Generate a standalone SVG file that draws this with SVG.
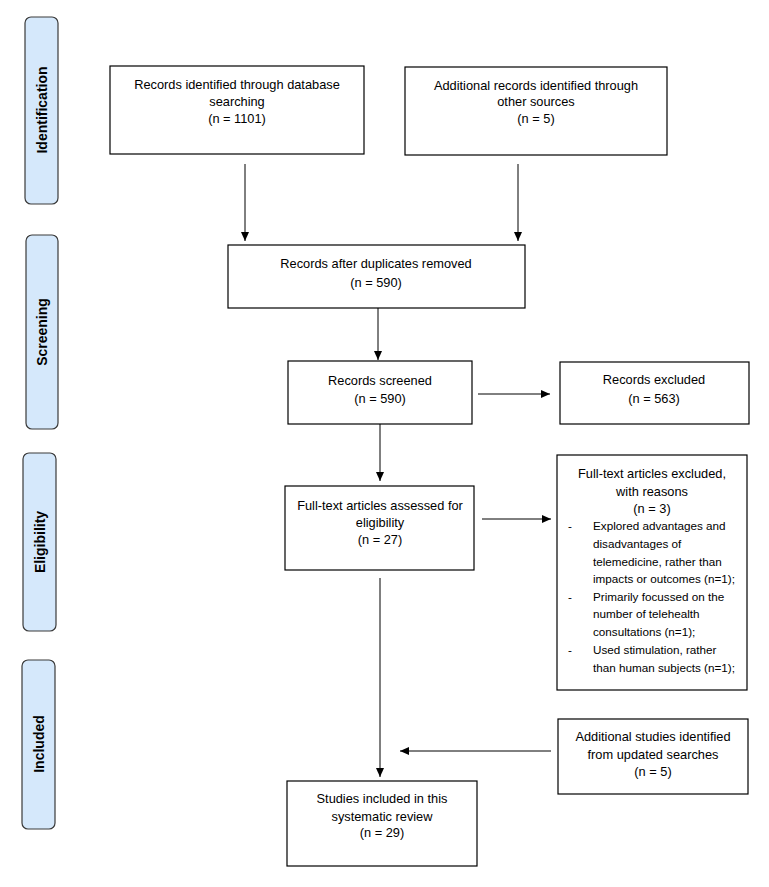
<svg xmlns="http://www.w3.org/2000/svg" width="769" height="887" viewBox="0 0 769 887">
<style>
.bg{fill:#ffffff}
.phase{fill:#d5e8fb;stroke:#3a3a3a;stroke-width:1.2}
.phase-t{font-family:"Liberation Sans",Arial,sans-serif;font-weight:bold;font-size:14px;fill:#000;text-anchor:middle}
.box{fill:#ffffff;stroke:#000;stroke-width:1.2}
.t{font-family:"Liberation Sans",Arial,sans-serif;font-size:12.8px;fill:#000;text-anchor:middle}
.tl{font-family:"Liberation Sans",Arial,sans-serif;font-size:11.7px;fill:#000}
.conn{stroke:#000;stroke-width:1;fill:none;marker-end:url(#ah)}
</style>
<defs>
<marker id="ah" markerWidth="10" markerHeight="10" refX="9" refY="4" orient="auto" markerUnits="userSpaceOnUse">
<path d="M0,0 L9,4 L0,8 Z" fill="#000"/>
</marker>
</defs>
<rect class="bg" x="0" y="0" width="769" height="887"/>

<g id="phase-identification">
<rect class="phase" x="25" y="17" width="33" height="187" rx="6"/>
<text class="phase-t" transform="translate(47,110) rotate(-90)">Identification</text>
</g>
<g id="phase-screening">
<rect class="phase" x="26" y="235" width="32" height="194" rx="6"/>
<text class="phase-t" transform="translate(47,332) rotate(-90)">Screening</text>
</g>
<g id="phase-eligibility">
<rect class="phase" x="23" y="453" width="33" height="178" rx="6"/>
<text class="phase-t" transform="translate(45,542) rotate(-90)">Eligibility</text>
</g>
<g id="phase-included">
<rect class="phase" x="22" y="660" width="33" height="169" rx="6"/>
<text class="phase-t" transform="translate(44,744) rotate(-90)">Included</text>
</g>

<g id="n-database">
<rect class="box" x="110" y="66" width="254" height="88"/>
<text class="t" x="237" y="89">Records identified through database</text>
<text class="t" x="237" y="106">searching</text>
<text class="t" x="237" y="123">(n = 1101)</text>
</g>
<g id="n-other">
<rect class="box" x="405" y="67" width="262" height="88"/>
<text class="t" x="536" y="90">Additional records identified through</text>
<text class="t" x="536" y="106">other sources</text>
<text class="t" x="536" y="123">(n = 5)</text>
</g>
<g id="n-dedup">
<rect class="box" x="228" y="245" width="297" height="63"/>
<text class="t" x="376" y="268">Records after duplicates removed</text>
<text class="t" x="376" y="287">(n = 590)</text>
</g>
<g id="n-screened">
<rect class="box" x="288" y="361" width="184" height="63"/>
<text class="t" x="380" y="385">Records screened</text>
<text class="t" x="380" y="403">(n = 590)</text>
</g>
<g id="n-excluded">
<rect class="box" x="560" y="362" width="189" height="62"/>
<text class="t" x="654" y="384">Records excluded</text>
<text class="t" x="654" y="403">(n = 563)</text>
</g>
<g id="n-fulltext">
<rect class="box" x="285" y="486" width="189" height="84"/>
<text class="t" x="380" y="510">Full-text articles assessed for</text>
<text class="t" x="380" y="527">eligibility</text>
<text class="t" x="380" y="544">(n = 27)</text>
</g>
<g id="n-ft-excluded">
<rect class="box" x="557" y="455" width="190" height="235"/>
<text class="t" x="652" y="478">Full-text articles excluded,</text>
<text class="t" x="652" y="496">with reasons</text>
<text class="t" x="652" y="513">(n = 3)</text>
<text class="tl" x="568" y="530">-</text>
<text class="tl" x="593" y="530">Explored advantages and</text>
<text class="tl" x="593" y="548">disadvantages of</text>
<text class="tl" x="593" y="566">telemedicine, rather than</text>
<text class="tl" x="593" y="583">impacts or outcomes (n=1);</text>
<text class="tl" x="568" y="601">-</text>
<text class="tl" x="593" y="601">Primarily focussed on the</text>
<text class="tl" x="593" y="618">number of telehealth</text>
<text class="tl" x="593" y="636">consultations (n=1);</text>
<text class="tl" x="568" y="654">-</text>
<text class="tl" x="593" y="654">Used stimulation, rather</text>
<text class="tl" x="593" y="672">than human subjects (n=1);</text>
</g>
<g id="n-updated">
<rect class="box" x="558" y="719" width="190" height="75"/>
<text class="t" x="653" y="741">Additional studies identified</text>
<text class="t" x="653" y="759">from updated searches</text>
<text class="t" x="653" y="776">(n = 5)</text>
</g>
<g id="n-included">
<rect class="box" x="287" y="781" width="190" height="85"/>
<text class="t" x="382" y="803">Studies included in this</text>
<text class="t" x="382" y="821">systematic review</text>
<text class="t" x="382" y="837">(n = 29)</text>
</g>

<g id="connectors">
<line class="conn" x1="245" y1="164" x2="245" y2="241"/>
<line class="conn" x1="518" y1="164" x2="518" y2="241"/>
<line class="conn" x1="378" y1="308" x2="378" y2="360"/>
<line class="conn" x1="478" y1="394" x2="550" y2="394"/>
<line class="conn" x1="380" y1="424" x2="380" y2="481"/>
<line class="conn" x1="482" y1="519" x2="551" y2="519"/>
<line class="conn" x1="380" y1="578" x2="380" y2="777"/>
<line class="conn" x1="551" y1="751" x2="400" y2="751"/>
</g>
</svg>
